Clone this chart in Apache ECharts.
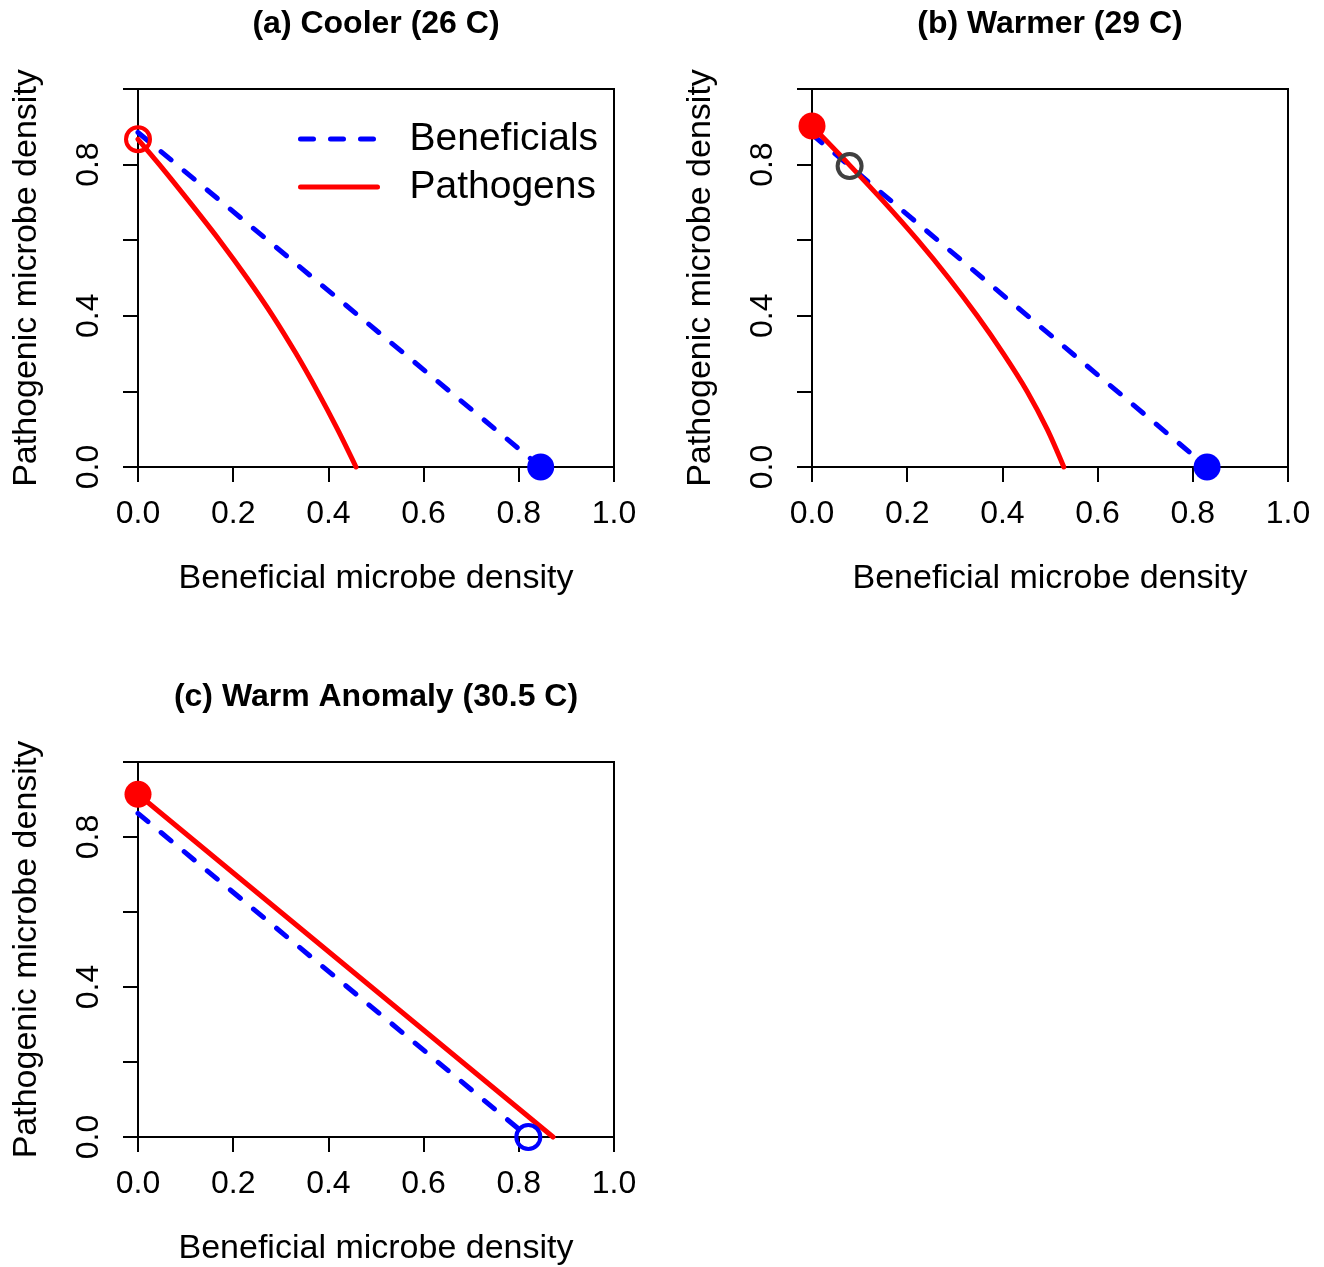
<!DOCTYPE html>
<html>
<head>
<meta charset="utf-8">
<script src="https://cdn.jsdelivr.net/npm/echarts@6/dist/echarts.min.js"></script>
<style>
html,body{margin:0;padding:0;background:#fff;}
#chart{width:1324px;height:1267px;}
</style>
</head>
<body>
<div id="chart"></div>
<script>
// ---- tick values ----
const xTickValues = [0, 0.2, 0.4, 0.6, 0.8, 1.0];
const yLabelValues = [0, 0.4, 0.8];

// ---- panel titles ----
const panelTitles = ['(a) Cooler (26 C)', '(b) Warmer (29 C)', '(c) Warm Anomaly (30.5 C)'];
const xAxisTitle = 'Beneficial microbe density';
const yAxisTitle = 'Pathogenic microbe density';

// ---- panel (a) ----
const benA = [[0, 0.885], [0.846, 0]];
const pathA = [[0, 0.867], [0.045, 0.8], [0.109, 0.7], [0.171, 0.6], [0.229, 0.5], [0.283, 0.4],
               [0.332, 0.3], [0.377, 0.2], [0.419, 0.1], [0.458, 0]];
const eqA_openRed = [[0, 0.867]];
const eqA_fillBlue = [[0.846, 0]];

// ---- panel (b) ----
const benB = [[0, 0.88], [0.83, 0]];
const pathB = [[0, 0.902], [0.078, 0.8], [0.152, 0.7], [0.222, 0.6], [0.287, 0.5], [0.347, 0.4],
               [0.402, 0.3], [0.452, 0.2], [0.494, 0.1], [0.529, 0]];
const eqB_fillRed = [[0, 0.902]];
const eqB_fillBlue = [[0.83, 0]];
const eqB_openGrey = [[0.079, 0.796]];

// ---- panel (c) ----
const benC = [[0, 0.863], [0.82, 0]];
const pathC = [[0, 0.914], [0.872, 0]];
const eqC_fillRed = [[0, 0.914]];
const eqC_openBlue = [[0.82, 0]];

const FONT = "'Liberation Sans', Arial, Helvetica, sans-serif";
const RED = '#ff0000', BLUE = '#0000ff', GREY = '#404040';
const DASH = [13, 17];

const grids = [
  {left: 138, top: 89, width: 476, height: 378},
  {left: 812, top: 89, width: 476, height: 378},
  {left: 138, top: 762, width: 476, height: 378}
];

function xAxisFor(i) {
  return {
    type: 'value', gridIndex: i, min: 0, max: 1, interval: 0.2,
    splitLine: {show: false},
    axisLine: {show: true, onZero: false, lineStyle: {color: '#000', width: 2}},
    axisTick: {show: true, inside: false, length: 15, lineStyle: {color: '#000', width: 2}},
    axisLabel: {show: true, margin: 31, fontSize: 32, color: '#000', fontFamily: FONT,
                formatter: v => xTickValues.some(t => Math.abs(t - v) < 1e-9) ? v.toFixed(1) : ''},
    name: xAxisTitle, nameLocation: 'middle', nameGap: 95,
    nameTextStyle: {fontSize: 34, color: '#000', fontFamily: FONT}
  };
}
function yAxisFor(i) {
  return {
    type: 'value', gridIndex: i, min: 0, max: 1, interval: 0.2,
    splitLine: {show: false},
    axisLine: {show: true, onZero: false, lineStyle: {color: '#000', width: 2}},
    axisTick: {show: true, inside: false, length: 15, lineStyle: {color: '#000', width: 2}},
    axisLabel: {show: true, margin: 33, rotate: 90, fontSize: 32, color: '#000', fontFamily: FONT,
                formatter: v => yLabelValues.some(t => Math.abs(t - v) < 1e-9) ? v.toFixed(1) : ''},
    name: yAxisTitle, nameLocation: 'middle', nameGap: 94,
    nameTextStyle: {fontSize: 34, color: '#000', fontFamily: FONT}
  };
}

function lineSeries(name, data, i, color, dashed) {
  return {
    type: 'line', name: name, xAxisIndex: i, yAxisIndex: i, data: data,
    symbol: 'none', showSymbol: false, clip: false, smooth: dashed ? false : 0.3,
    lineStyle: {color: color, width: 5, type: dashed ? DASH : 'solid', cap: 'round', join: 'round'},
    itemStyle: {color: color}, z: 2, silent: true
  };
}
function pointSeries(name, data, i, color, filled) {
  return {
    type: 'scatter', name: name, xAxisIndex: i, yAxisIndex: i, data: data, clip: false,
    symbol: 'circle', symbolSize: filled ? 27 : 24, z: 5, silent: true,
    itemStyle: filled ? {color: color, opacity: 1} : {color: 'rgba(0,0,0,0)', borderColor: color, borderWidth: 4, opacity: 1}
  };
}

const series = [
  lineSeries('Beneficials', benA, 0, BLUE, true),
  lineSeries('Pathogens', pathA, 0, RED, false),
  pointSeries('eqA open pathogen', eqA_openRed, 0, RED, false),
  pointSeries('eqA beneficial', eqA_fillBlue, 0, BLUE, true),

  lineSeries('Beneficials', benB, 1, BLUE, true),
  lineSeries('Pathogens', pathB, 1, RED, false),
  pointSeries('eqB pathogen', eqB_fillRed, 1, RED, true),
  pointSeries('eqB beneficial', eqB_fillBlue, 1, BLUE, true),
  pointSeries('eqB coexistence', eqB_openGrey, 1, GREY, false),

  lineSeries('Beneficials', benC, 2, BLUE, true),
  lineSeries('Pathogens', pathC, 2, RED, false),
  pointSeries('eqC pathogen', eqC_fillRed, 2, RED, true),
  pointSeries('eqC open beneficial', eqC_openBlue, 2, BLUE, false)
];

const titleGraphics = grids.map((g, i) => ({
  type: 'text', x: g.left + g.width / 2, y: g.top - 65, silent: true,
  style: {text: panelTitles[i], fontSize: 32, fontWeight: 'bold', fontFamily: FONT,
          fill: '#000', textAlign: 'center', textVerticalAlign: 'middle'}
}));

const option = {
  animation: false,
  backgroundColor: '#fff',
  textStyle: {fontFamily: FONT},
  grid: grids.map(g => Object.assign({show: true, borderColor: '#000', borderWidth: 2, backgroundColor: 'transparent', containLabel: false}, g)),
  xAxis: [0, 1, 2].map(xAxisFor),
  yAxis: [0, 1, 2].map(yAxisFor),
  legend: {
    data: [
      {name: 'Beneficials', itemStyle: {color: 'rgba(0,0,0,0)', borderWidth: 0, opacity: 0},
       lineStyle: {color: BLUE, width: 5, type: DASH, cap: 'round'}},
      {name: 'Pathogens', itemStyle: {color: 'rgba(0,0,0,0)', borderWidth: 0, opacity: 0},
       lineStyle: {color: RED, width: 5, type: 'solid', cap: 'round'}}
    ],
    orient: 'vertical', left: 298, top: 119, padding: 0,
    itemWidth: 77, itemHeight: 14, itemGap: 8, selectedMode: false,
    textStyle: {fontSize: 39, color: '#000', fontFamily: FONT, lineHeight: 40, padding: [0, 0, 0, 27]}
  },
  graphic: titleGraphics,
  series: series
};

const chart = echarts.init(document.getElementById('chart'), null, {renderer: 'canvas'});
chart.setOption(option);
</script>
</body>
</html>
